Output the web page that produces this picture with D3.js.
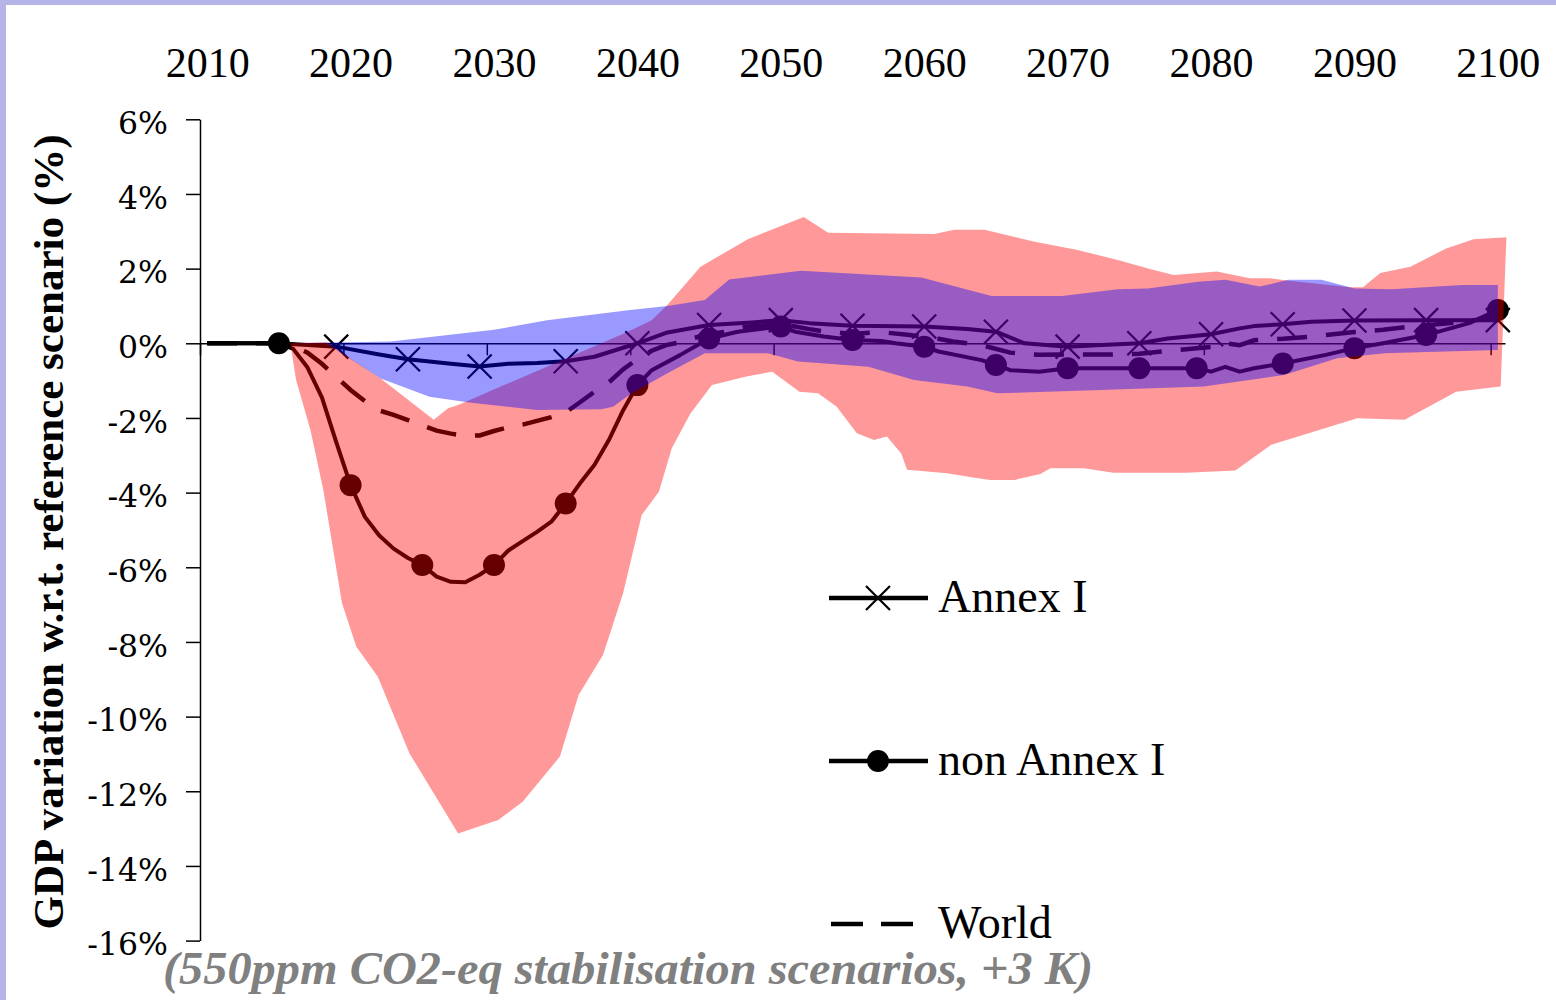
<!DOCTYPE html>
<html>
<head>
<meta charset="utf-8">
<script src="https://cdn.jsdelivr.net/npm/d3@7"></script>
<style>
  html, body { margin: 0; padding: 0; background: #ffffff; }
  svg { display: block; }
</style>
</head>
<body>
<svg id="chart" width="1556" height="1000"></svg>
<script>
// ---------------- data ----------------
const decadeLabels = [2010, 2020, 2030, 2040, 2050, 2060, 2070, 2080, 2090, 2100];
const yTickValues = [6, 4, 2, 0, -2, -4, -6, -8, -10, -12, -14, -16];

// Annex I GDP variation (%)
const annexYears  = [2010, 2015, 2019, 2022, 2024, 2027, 2029, 2031, 2033, 2035, 2037, 2039, 2040, 2042, 2045, 2048, 2050, 2052, 2055, 2060, 2063, 2065, 2067, 2070, 2072, 2075, 2077, 2080, 2082, 2083, 2085, 2087, 2090, 2095, 2100];
const annexValues = [0, 0, -0.09, -0.3, -0.43, -0.55, -0.62, -0.55, -0.53, -0.48, -0.36, -0.12, 0, 0.28, 0.49, 0.56, 0.62, 0.54, 0.47, 0.45, 0.38, 0.31, 0.0, -0.09, -0.05, 0.0, 0.13, 0.24, 0.4, 0.46, 0.51, 0.58, 0.61, 0.62, 0.62];
const annexMarkerYears = [2019, 2024, 2029, 2035, 2040, 2045, 2050, 2055, 2060, 2065, 2070, 2075, 2080, 2085, 2090, 2095, 2100];

// non Annex I GDP variation (%)
const nonAnnexYears  = [2010, 2015, 2016, 2017, 2018, 2019, 2020, 2021, 2022, 2023, 2024, 2025, 2026, 2027, 2028, 2029, 2030, 2031, 2032, 2033, 2034, 2035, 2036, 2037, 2038, 2039, 2040, 2041, 2043, 2045, 2047, 2050, 2051, 2053, 2055, 2057, 2058, 2060, 2061, 2064, 2065, 2066, 2068, 2070, 2075, 2077, 2079, 2080, 2081, 2082, 2083, 2085, 2088, 2090, 2092, 2095, 2098, 2100];
const nonAnnexValues = [0, 0, -0.15, -0.65, -1.45, -2.65, -3.8, -4.65, -5.15, -5.5, -5.75, -5.94, -6.25, -6.39, -6.4, -6.2, -5.94, -5.55, -5.3, -5.05, -4.78, -4.29, -3.75, -3.26, -2.6, -1.8, -1.12, -0.72, -0.31, 0.13, 0.31, 0.45, 0.31, 0.18, 0.09, 0.06, 0, -0.09, -0.22, -0.45, -0.58, -0.72, -0.76, -0.67, -0.67, -0.67, -0.67, -0.76, -0.63, -0.76, -0.67, -0.54, -0.31, -0.13, 0, 0.22, 0.54, 0.89];
const nonAnnexMarkerYears = [2015, 2020, 2025, 2030, 2035, 2040, 2045, 2050, 2055, 2060, 2065, 2070, 2075, 2079, 2085, 2090, 2095, 2100];

// World GDP variation (%)
const worldYears  = [2010, 2015, 2016, 2017, 2018, 2019, 2020, 2021, 2022, 2023, 2024, 2025, 2026, 2027, 2028, 2029, 2030, 2031, 2032, 2033, 2034, 2035, 2036, 2037, 2038, 2039, 2040, 2041, 2042, 2043, 2044, 2045, 2046, 2047, 2048, 2050, 2051, 2052, 2053, 2055, 2057, 2059, 2061, 2062, 2064, 2066, 2068, 2070, 2073, 2075, 2077, 2080, 2081, 2082, 2083, 2085, 2087, 2090, 2092, 2094, 2097, 2100];
const worldValues = [0, 0, -0.08, -0.25, -0.55, -0.9, -1.25, -1.55, -1.8, -1.92, -2.06, -2.2, -2.34, -2.42, -2.48, -2.47, -2.35, -2.25, -2.18, -2.08, -1.98, -1.85, -1.58, -1.3, -1.05, -0.7, -0.42, -0.2, -0.05, 0.03, 0.15, 0.24, 0.3, 0.4, 0.46, 0.5, 0.45, 0.38, 0.32, 0.25, 0.3, 0.22, 0.12, 0.05, -0.05, -0.25, -0.31, -0.3, -0.3, -0.28, -0.2, -0.1, 0, -0.05, 0.08, 0.12, 0.18, 0.3, 0.36, 0.45, 0.55, 0.7];

// Range across non Annex I scenarios (red band)
const redUpperYears  = [2015.8, 2018.3, 2022.1, 2025.8, 2026.8, 2027.5, 2039.1, 2041, 2042.1, 2044.4, 2047.7, 2051.6, 2053.3, 2060.7, 2062.1, 2064.2, 2067.7, 2070.7, 2073.5, 2075.8, 2077.4, 2080.4, 2082.7, 2084.1, 2085.3, 2089.7, 2090.6, 2091.8, 2093.9, 2096.4, 2098.3, 2100.6];
const redUpperValues = [0, 0.03, -0.94, -2.05, -1.74, -1.65, 0.27, 0.62, 1.03, 2.05, 2.79, 3.38, 2.96, 2.93, 3.04, 3.04, 2.72, 2.5, 2.23, 1.98, 1.83, 1.92, 1.74, 1.74, 1.68, 1.5, 1.5, 1.88, 2.05, 2.54, 2.79, 2.84];
const redLowerYears  = [2015.8, 2016.2, 2017.2, 2018.1, 2019.4, 2020.4, 2021.9, 2024.1, 2027.5, 2030.3, 2032.0, 2034.6, 2035.9, 2037.6, 2039.0, 2040.3, 2041.5, 2042.4, 2043.7, 2045.2, 2047.6, 2049.4, 2051.3, 2052.6, 2053.9, 2055.3, 2056.5, 2057.4, 2058.4, 2058.8, 2061.6, 2063.5, 2064.6, 2066.3, 2068.1, 2068.8, 2071.1, 2073.2, 2078.3, 2081.7, 2084.2, 2090.2, 2093.5, 2097.1, 2100.2];
const redLowerValues = [0, -0.98, -2.32, -3.93, -6.96, -8.13, -8.93, -10.98, -13.13, -12.77, -12.28, -11.07, -9.42, -8.35, -6.70, -4.6, -3.98, -2.81, -1.88, -1.12, -0.89, -0.76, -1.3, -1.34, -1.7, -2.41, -2.59, -2.5, -2.95, -3.39, -3.48, -3.6, -3.66, -3.66, -3.5, -3.35, -3.35, -3.47, -3.47, -3.41, -2.72, -2.01, -2.05, -1.3, -1.16];

// Range across Annex I scenarios (blue band)
const blueUpperYears  = [2015.8, 2022.8, 2030.0, 2033.7, 2039.5, 2042.1, 2044.7, 2046.4, 2051.4, 2059.8, 2064.7, 2069.6, 2073.5, 2075.6, 2079.1, 2081.0, 2083.4, 2085.4, 2087.7, 2090.0, 2092.6, 2097.5, 2100.0];
const blueUpperValues = [0, 0.05, 0.36, 0.62, 0.89, 1.0, 1.16, 1.71, 1.94, 1.76, 1.27, 1.27, 1.45, 1.47, 1.65, 1.70, 1.52, 1.70, 1.70, 1.47, 1.45, 1.56, 1.56];
const blueLowerYears  = [2015.8, 2018.3, 2022.1, 2025.5, 2028.4, 2033.0, 2037.5, 2038.3, 2039.6, 2042.1, 2044.7, 2049.1, 2051.2, 2056.1, 2059.3, 2063.0, 2065.1, 2072.3, 2079.5, 2085.1, 2088.8, 2092.1, 2100.0];
const blueLowerValues = [0, 0, -0.94, -1.43, -1.59, -1.79, -1.77, -1.7, -1.34, -0.8, -0.27, -0.27, -0.49, -0.63, -0.98, -1.16, -1.34, -1.25, -1.16, -0.85, -0.4, -0.27, -0.18];

const legendLabels = ["Annex I", "non Annex I", "World"];
const yAxisTitle = "GDP variation w.r.t. reference scenario (%)";
const subtitleText = "(550ppm CO2-eq stabilisation scenarios, +3  K)";

// ---------------- helpers ----------------
const zip = (xs, vs) => xs.map((yr, i) => ({ year: yr, value: vs[i] }));
const annex = zip(annexYears, annexValues);
const nonAnnex = zip(nonAnnexYears, nonAnnexValues);
const world = zip(worldYears, worldValues);
const pick = (series, yrs) => series.filter(d => yrs.includes(d.year));

const svg = d3.select("#chart");
const W = 1556, H = 1000;

// scales: one category slot per year, centred on the year
const x = d3.scaleLinear().domain([2009.5, 2100.5]).range([200, 1505]);
const y = d3.scaleLinear().domain([-16, 6]).range([940.6, 119.3]);

svg.append("rect").attr("width", W).attr("height", H).attr("fill", "#ffffff");

// frame strips along the top and left edges
svg.append("rect").attr("x", 0).attr("y", 0).attr("width", W).attr("height", 5).attr("fill", "#b4b4e6");
svg.append("rect").attr("x", 0).attr("y", 0).attr("width", 6).attr("height", H).attr("fill", "#b4b4e6");

// ---------------- axes ----------------
const yAxis = d3.axisLeft(y)
  .tickValues(yTickValues)
  .tickSize(14)
  .tickSizeOuter(0)
  .tickPadding(18)
  .tickFormat(d => d + "%");
const gy = svg.append("g").attr("transform", "translate(200,0)").call(yAxis);
gy.select(".domain").attr("stroke", "#000").attr("stroke-width", 1.5);
gy.selectAll(".tick line").attr("stroke", "#000").attr("stroke-width", 1.5);
gy.selectAll(".tick text")
  .attr("font-family", "'DejaVu Serif', serif")
  .attr("font-size", 31.5)
  .attr("fill", "#000")
  .attr("dy", "0.45em");

// zero line with ticks between decades
const xAxis = d3.axisBottom(x)
  .tickValues(decadeLabels.map(d => d - 0.5))
  .tickSize(12)
  .tickSizeOuter(0)
  .tickFormat("");
const gx = svg.append("g").attr("transform", `translate(0,${y(0)})`).call(xAxis);
gx.select(".domain").attr("stroke", "#000").attr("stroke-width", 1.5);
gx.selectAll(".tick line").attr("stroke", "#000").attr("stroke-width", 1.5);

// decade labels along the top
const topAxis = d3.axisTop(x).tickValues(decadeLabels).tickSize(0).tickPadding(0).tickFormat(d3.format("d"));
const gt = svg.append("g").attr("transform", "translate(0,77)").call(topAxis);
gt.select(".domain").remove();
gt.selectAll(".tick text")
  .attr("font-family", "'Liberation Serif', 'Times New Roman', serif")
  .attr("font-size", 42)
  .attr("fill", "#000");

// ---------------- series lines ----------------
const line = d3.line().x(d => x(d.year)).y(d => y(d.value));

const gLines = svg.append("g");
gLines.append("path").datum(annex)
  .attr("d", line).attr("fill", "none").attr("stroke", "#000")
  .attr("stroke-width", 4).attr("stroke-linejoin", "round");
gLines.append("path").datum(nonAnnex)
  .attr("d", line).attr("fill", "none").attr("stroke", "#000")
  .attr("stroke-width", 4).attr("stroke-linejoin", "round");
gLines.append("path").datum(world)
  .attr("d", line).attr("fill", "none").attr("stroke", "#000")
  .attr("stroke-width", 4.5).attr("stroke-dasharray", "30,19");

const crossPath = "M-12,-12L12,12M-12,12L12,-12";
gLines.selectAll(".xmark").data(pick(annex, annexMarkerYears)).join("path")
  .attr("class", "xmark")
  .attr("transform", d => `translate(${x(d.year)},${y(d.value)})`)
  .attr("d", crossPath).attr("stroke", "#000").attr("stroke-width", 2.2).attr("fill", "none");
gLines.selectAll(".dot").data(pick(nonAnnex, nonAnnexMarkerYears)).join("circle")
  .attr("class", "dot")
  .attr("cx", d => x(d.year)).attr("cy", d => y(d.value)).attr("r", 11)
  .attr("fill", "#000");

// ---------------- scenario ranges (translucent, over the lines) ----------------
function bandPoints(upYears, upVals, loYears, loVals) {
  const up = zip(upYears, upVals);
  const lo = zip(loYears, loVals).reverse();
  return up.concat(lo);
}
const bandLine = d3.line().x(d => x(d.year)).y(d => y(d.value));
svg.append("path")
  .datum(bandPoints(redUpperYears, redUpperValues, redLowerYears, redLowerValues))
  .attr("d", d => bandLine(d) + "Z")
  .attr("fill", "rgb(255,0,0)").attr("fill-opacity", 0.4);
svg.append("path")
  .datum(bandPoints(blueUpperYears, blueUpperValues, blueLowerYears, blueLowerValues))
  .attr("d", d => bandLine(d) + "Z")
  .attr("fill", "rgb(0,0,255)").attr("fill-opacity", 0.4);

// ---------------- legend ----------------
const legendRows = [598, 761, 924];
const gLeg = svg.append("g");
legendLabels.forEach((label, i) => {
  const ly = legendRows[i];
  if (i < 2) {
    gLeg.append("line").attr("x1", 829).attr("x2", 928).attr("y1", ly).attr("y2", ly)
      .attr("stroke", "#000").attr("stroke-width", 4.5);
  } else {
    gLeg.append("line").attr("x1", 831).attr("x2", 913).attr("y1", ly).attr("y2", ly)
      .attr("stroke", "#000").attr("stroke-width", 4.5).attr("stroke-dasharray", "32,18");
  }
  if (i === 0) {
    gLeg.append("path").attr("transform", `translate(878,${ly})`).attr("d", crossPath)
      .attr("stroke", "#000").attr("stroke-width", 2.2).attr("fill", "none");
  } else if (i === 1) {
    gLeg.append("circle").attr("cx", 878).attr("cy", ly).attr("r", 11).attr("fill", "#000");
  }
  gLeg.append("text").attr("x", 938).attr("y", ly + 14)
    .attr("font-family", "'Liberation Serif', 'Times New Roman', serif")
    .attr("font-size", 46).attr("fill", "#000")
    .text(label);
});

// ---------------- titles ----------------
svg.append("text")
  .attr("transform", "translate(63,532) rotate(-90)")
  .attr("text-anchor", "middle")
  .attr("font-family", "'Liberation Serif', 'Times New Roman', serif")
  .attr("font-weight", "bold")
  .attr("font-size", 42)
  .attr("textLength", 795).attr("lengthAdjust", "spacingAndGlyphs")
  .attr("fill", "#000")
  .text(yAxisTitle);

svg.append("text")
  .attr("x", 163).attr("y", 984)
  .attr("font-family", "'Liberation Serif', 'Times New Roman', serif")
  .attr("font-weight", "bold").attr("font-style", "italic")
  .attr("font-size", 46)
  .attr("textLength", 930).attr("lengthAdjust", "spacingAndGlyphs")
  .attr("fill", "#808080")
  .text(subtitleText);
</script>
</body>
</html>
